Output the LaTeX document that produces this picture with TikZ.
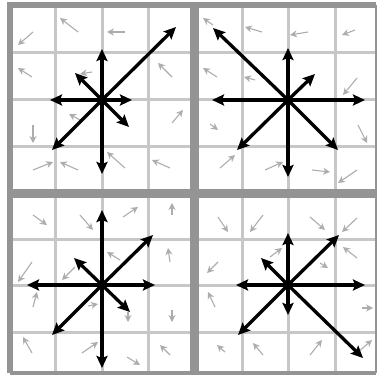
\documentclass[tikz,border=0pt]{standalone}
\usetikzlibrary{arrows.meta}

\begin{document}
\begin{tikzpicture}[
  x=1pt, y=-1pt,
  cellline/.style={draw=black!22, line width=3pt},
  frame/.style={draw=black!42, line width=6pt},
  divider/.style={draw=black!42, line width=9pt},
  bin/.style={-{Stealth[length=12pt, width=11pt, inset=2pt]}, line width=3.3pt},
  grad/.style={-{Stealth[length=7pt, width=7pt]}, draw=black!32, line width=1.1pt}
]
\useasboundingbox[fill=white] (0,0) rectangle (379,379);

% cells
\foreach \gx in {55,102,148,242,288,335}
  \draw[cellline] (\gx,5.5) -- (\gx,373);
\foreach \gy in {53,100,147,239,285,332}
  \draw[cellline] (10,\gy) -- (376,\gy);

% frame and dividers
\draw[frame] (10,373) |- (376,5.5);
\draw[frame, line width=4.5pt] (10,373) -- (376,373);
\draw[frame, line width=2pt] (376,5.5) -- (376,373);
\draw[divider] (194.5,5.5) -- (194.5,373);
\draw[divider] (10,193) -- (376,193);

% gradient samples
\foreach \ax/\ay/\bx/\by in {
  33/32/18/45, 78/32/60/18, 125/32/107/32, 32/77/18/68, 92/72/80/74,
  172/77/158/63, 33/125/33/143, 80/120/69/114, 172/123/183/110,
  33/170/53/162, 78/170/60/162, 125/168/107/152, 170/168/152/160,
  213/25/203/18, 262/32/245/27, 308/32/290/35, 355/30/342/35,
  217/77/203/68, 255/80/244/77, 357/78/343/95, 210/124/218/130,
  358/125/367/143, 220/168/235/155, 265/170/283/162, 312/170/330/172,
  357/170/338/183,
  33/215/47/225, 80/215/93/230, 123/217/138/207, 172/215/172/203,
  32/262/18/282, 75/267/62/280, 120/260/107/252, 170/262/168/248,
  33/307/37/292, 88/306/98/304, 128/312/128/322, 172/310/172/322,
  32/353/23/337, 82/353/98/342, 127/357/140/365, 170/355/160/345,
  218/217/228/232, 263/215/250/232, 310/217/325/230, 357/218/342/232,
  218/262/207/273, 270/257/282/248, 320/263/328/268, 357/258/343/247,
  215/307/208/292, 362/308/373/308, 225/352/217/345, 263/355/253/343,
  310/355/322/340, 357/353/372/340}
  \draw[grad] (\ax,\ay) -- (\bx,\by);

% orientation histograms
\coordinate (tl) at (102,100);
\coordinate (tr) at (288,100);
\coordinate (bl) at (102,285);
\coordinate (br) at (288,285);

\foreach \dx/\dy in {0/-51, 0/74, -52/0, 30/0, 74/-73, -27/-27, -50/50, 27/27}
  \draw[bin] (tl) -- ++(\dx,\dy);
\foreach \dx/\dy in {0/-52, 0/77, -76/0, 77/0, -75/-72, 27/-26, -51/50, 50/50}
  \draw[bin] (tr) -- ++(\dx,\dy);
\foreach \dx/\dy in {0/-75, 0/83, -75/0, 53/0, 51/-50, -28/-27, -50/50, 28/27}
  \draw[bin] (bl) -- ++(\dx,\dy);
\foreach \dx/\dy in {0/-52, 0/30, -52/0, 77/0, 51/-50, -27/-27, -50/50, 75/73}
  \draw[bin] (br) -- ++(\dx,\dy);

\foreach \c in {tl,tr,bl,br}
  \fill (\c) circle (3.5pt);
\end{tikzpicture}
\end{document}
